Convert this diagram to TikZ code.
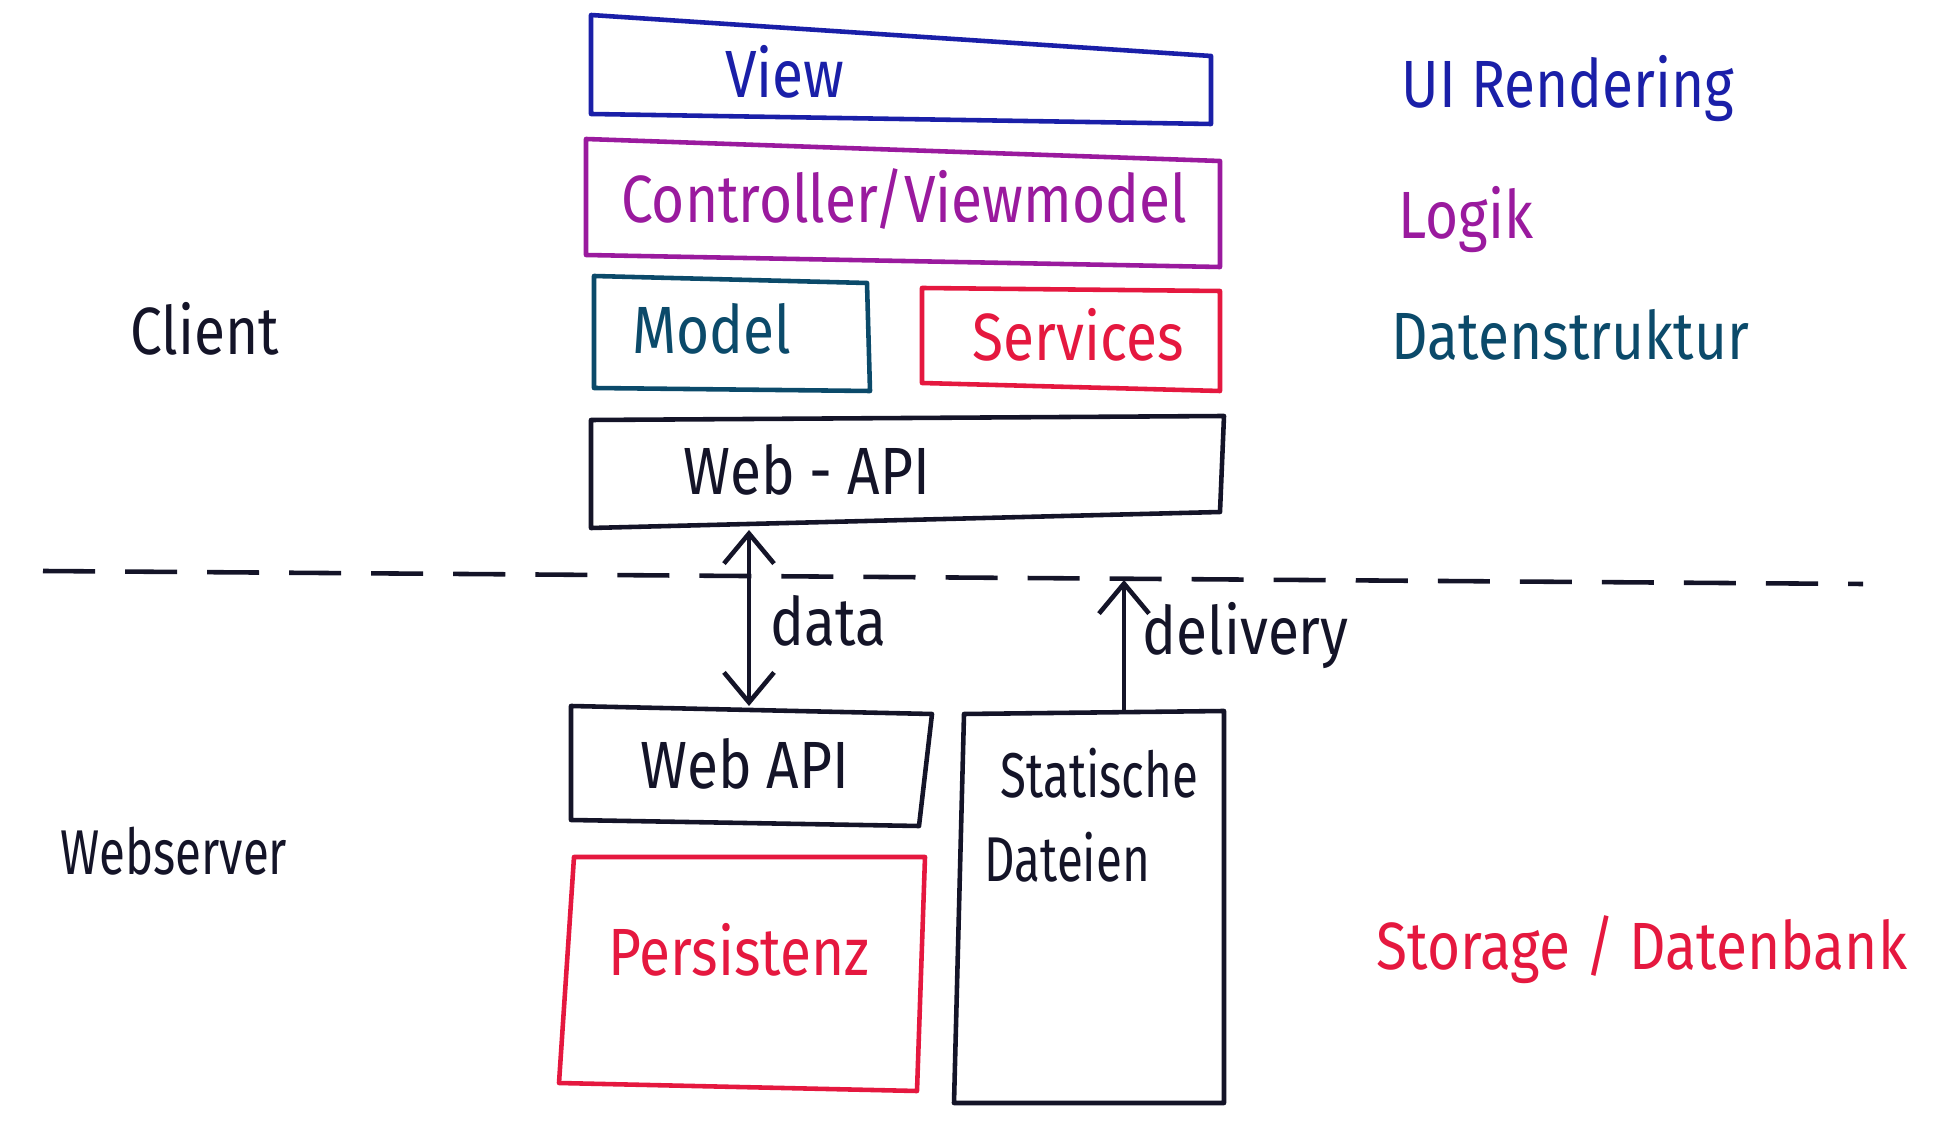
\documentclass[tikz,border=0pt]{standalone}
\usepackage{fontspec}
\setmainfont{Fira Sans}
\newfontfamily\hand[FakeStretch=0.85]{Fira Sans}
\newfontfamily\handn[FakeStretch=0.75]{Fira Sans}
\usetikzlibrary{arrows.meta}
\definecolor{cblue}{HTML}{1A1FA8}
\definecolor{cpurple}{HTML}{9A1A9E}
\definecolor{cteal}{HTML}{0B4A6A}
\definecolor{cred}{HTML}{E5183F}
\definecolor{cink}{HTML}{141428}
\begin{document}
\begin{tikzpicture}[x=0.01cm,y=-0.01cm,
  box/.style={line width=1.3pt, line join=round, line cap=round},
  lbl/.style={font=\hand\fontsize{19}{22}\selectfont, inner sep=0pt},
  narrow/.style={font=\handn\fontsize{18}{22}\selectfont, inner sep=0pt},
  side/.style={font=\hand\fontsize{19}{22}\selectfont, inner sep=0pt, anchor=west},
  conn/.style={line width=1.3pt, cink},
  barb/.tip={Straight Barb[length=3mm,width=5mm,line width=1.3pt]}]
\useasboundingbox (0,0) rectangle (1948,1134);
\fill[white] (0,0) rectangle (1948,1134);

% client boxes
\draw[box, cblue] (591,15) -- (1211,56) -- (1211,124) -- (591,114) -- cycle;
\node[lbl, cblue] (view) at (785,72) {View};

\draw[box, cpurple] (586,139) -- (1220,161) -- (1220,267) -- (586,255) -- cycle;
\node[lbl, cpurple] (ctrl) at (904,199) {Controller/Viewmodel};

\draw[box, cteal] (594,276) -- (867,283) -- (870,391) -- (594,388) -- cycle;
\node[lbl, cteal] (model) at (712,329) {Model};

\draw[box, cred] (922,288) -- (1220,291) -- (1220,391) -- (922,383) -- cycle;
\node[lbl, cred] (services) at (1078,335) {Services};

\draw[box, cink] (591,420) -- (1224,416) -- (1220,512) -- (591,528) -- cycle;
\node[lbl, cink] (webapiC) at (807,470) {Web - API};

% separator
\draw[line width=1.3pt, cink, dash pattern=on 0.52cm off 0.3cm] (43,571) -- (1863,584);

% server boxes
\draw[box, cink] (571,706) -- (932,714) -- (919,826) -- (571,820) -- cycle;
\node[lbl, cink] (webapiS) at (745,764) {Web API};

\draw[box, cred] (574,857) -- (925,857) -- (917,1091) -- (559,1083) -- cycle;
\node[lbl, cred] (persist) at (739,950) {Persistenz};

\draw[box, cink] (964,714) -- (1224,711) -- (1224,1103) -- (954,1103) -- cycle;
\node[narrow, cink, anchor=west] (stat1) at (1000,773) {Statische};
\node[narrow, cink, anchor=west] (stat2) at (984,857) {Dateien};

% connectors
\coordinate (dataTop) at (749,530);
\coordinate (dataBot) at (749,706);
\coordinate (delTop) at (1124,580);
\coordinate (delBot) at (1124,712);
\draw[conn, barb-barb] (dataTop) -- (dataBot);
\draw[conn, -barb] (delBot) -- (delTop);
\node[lbl, cink, anchor=west] (data) at (770,621) {data};
\node[lbl, cink, anchor=west] (delivery) at (1142,636) {delivery};

% side labels
\node[lbl, cink] (client) at (205,329) {Client};
\node[narrow, cink] (webserver) at (174,851) {Webserver};
\node[side, cblue] (ui) at (1401,89) {UI Rendering};
\node[side, cpurple] (logik) at (1398,220) {Logik};
\node[side, cteal] (ds) at (1391,335) {Datenstruktur};
\node[side, cred] (storage) at (1376,950) {Storage / Datenbank};
\end{tikzpicture}
\end{document}
